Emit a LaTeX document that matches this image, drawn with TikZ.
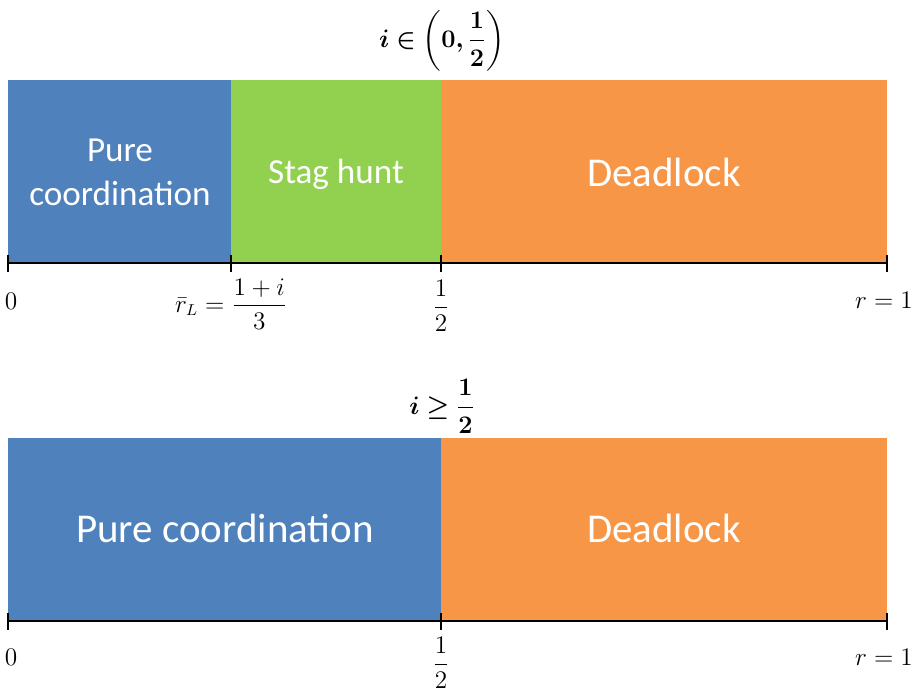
\documentclass[tikz,border=0pt]{standalone}
\usepackage{amsmath}
\usepackage{bm}
\usepackage{fontspec}
\newfontfamily\bandfont{Carlito}
\definecolor{pcblue}{HTML}{4F81BD}
\definecolor{shgreen}{HTML}{92D050}
\definecolor{dlorange}{HTML}{F79646}
\begin{document}
\begin{tikzpicture}[x=0.02cm,y=-0.02cm,
  bandtext/.style={text=white,font=\bandfont\fontsize{20}{23}\selectfont,align=center,inner sep=0pt},
  bigtext/.style={text=white,font=\bandfont\fontsize{23.3}{27}\selectfont,align=center,inner sep=0pt},
  axisline/.style={line width=1.1pt,black},
  ticklabel/.style={font=\fontsize{13.5}{16}\selectfont,inner sep=0pt},
  heading/.style={font=\fontsize{15}{18}\selectfont,inner sep=0pt}]
\useasboundingbox (0,0) rectangle (917,688);

% ---- upper scale: i in (0,1/2)
\fill[pcblue]   (8,80)   rectangle (231,262);
\fill[shgreen]  (231,80) rectangle (441,262);
\fill[dlorange] (441,80) rectangle (887,262);
\node[bandtext] (pc1) at (120,172) {Pure\\[2pt]coordination};
\node[bandtext] (sh1) at (336,174) {Stag hunt};
\node[bigtext]  (dl1) at (664,172) {Deadlock};
\node[heading]  (h1)  at (442,41) {$\bm{i\in\left(0,\dfrac{1}{2}\right)}$};

\coordinate (a0) at (8,263);
\coordinate (aL) at (231,263);
\coordinate (aH) at (441,263);
\coordinate (a1) at (887,263);
\draw[axisline] (a0) -- (a1);
\foreach \p in {a0,aL,aH,a1} \draw[axisline] ([yshift=4.5pt]\p) -- ([yshift=-5pt]\p);
\node[ticklabel] (z1) at (11,301) {$0$};
\node[ticklabel] (rl) at (231,304) {$\bar{r}_{L}=\dfrac{1+i}{3}$};
\node[ticklabel] (hf1) at (441,306) {$\dfrac{1}{2}$};
\node[ticklabel] (o1) at (884,300) {$r=1$};

% ---- lower scale: i >= 1/2
\fill[pcblue]   (8,438)   rectangle (441,620);
\fill[dlorange] (441,438) rectangle (887,620);
\node[bigtext] (pc2) at (225,528) {Pure coordination};
\node[bigtext] (dl2) at (664,528) {Deadlock};
\node[heading] (h2) at (442,406) {$\bm{i\geq\dfrac{1}{2}}$};

\coordinate (b0) at (8,621);
\coordinate (bH) at (441,621);
\coordinate (b1) at (887,621);
\draw[axisline] (b0) -- (b1);
\foreach \p in {b0,bH,b1} \draw[axisline] ([yshift=4.5pt]\p) -- ([yshift=-5pt]\p);
\node[ticklabel] (z2) at (11,657) {$0$};
\node[ticklabel] (hf2) at (441,663) {$\dfrac{1}{2}$};
\node[ticklabel] (o2) at (884,657) {$r=1$};
\end{tikzpicture}
\end{document}
